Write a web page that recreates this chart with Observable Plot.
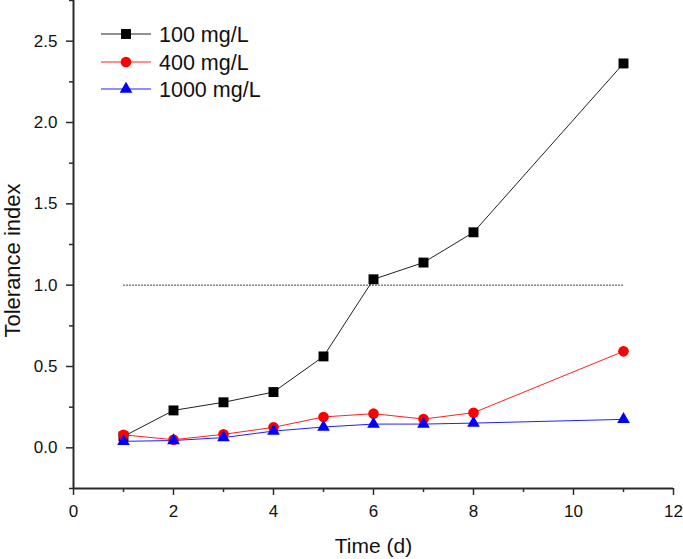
<!DOCTYPE html>
<html>
<head>
<meta charset="utf-8">
<script src="https://cdn.jsdelivr.net/npm/d3@7"></script>
<script src="https://cdn.jsdelivr.net/npm/@observablehq/plot@0.6"></script>
<style>
  html, body { margin: 0; padding: 0; background: #fff; }
  #chart { position: relative; width: 683px; height: 559px; }
</style>
</head>
<body>
<div id="chart"></div>
<script>
// ---- data ----
const days = [1, 2, 3, 4, 5, 6, 7, 8, 11];
const series = ["100 mg/L", "400 mg/L", "1000 mg/L"];
const values100 = [0.07, 0.23, 0.28, 0.343, 0.562, 1.036, 1.139, 1.325, 2.363];
const values400 = [0.08, 0.05, 0.083, 0.126, 0.19, 0.21, 0.177, 0.216, 0.593];
const values1000 = [0.04, 0.045, 0.063, 0.103, 0.128, 0.146, 0.146, 0.152, 0.175];
const thresholdValue = 1.0;
const thresholdRange = [1, 11];
const xMajorTicks = [0, 2, 4, 6, 8, 10, 12];
const xMinorTicks = [1, 3, 5, 7, 9, 11];
const yMajorTicks = [0, 0.5, 1.0, 1.5, 2.0, 2.5];
const yMinorTicks = [-0.25, 0.25, 0.75, 1.25, 1.75, 2.25, 2.75];
const xTitle = "Time (d)";
const yTitle = "Tolerance index";

const colors = ["#000000", "#ff0000", "#0000ff"];
const lineColors = ["#222222", "#ff2020", "#2020ff"];
const symbols = ["square", "circle", "triangle"];
const radii = [5.6, 5.3, 4.7];

const allValues = [values100, values400, values1000];
const rows = [];
series.forEach((s, i) => days.forEach((d, j) => rows.push({series: s, idx: i, day: d, value: allValues[i][j]})));

const axisColor = "#2a2a2a";
const font = "'Liberation Sans', Arial, sans-serif";

const marks = [
  Plot.ruleX([0], {stroke: axisColor, strokeWidth: 2}),
  Plot.ruleY([-0.25], {stroke: axisColor, strokeWidth: 2}),
  Plot.axisX({ticks: xMajorTicks, tickSize: 7, tickPadding: 9, tickFormat: d => String(d), fontSize: 17, stroke: axisColor, strokeWidth: 1.5, label: null}),
  Plot.axisX({ticks: xMinorTicks, tickSize: 4, tickFormat: () => "", stroke: axisColor, strokeWidth: 1.5, label: null}),
  Plot.axisY({ticks: yMajorTicks, tickSize: 7, tickPadding: 9, tickFormat: d => d.toFixed(1), fontSize: 17, stroke: axisColor, strokeWidth: 1.5, label: null}),
  Plot.axisY({ticks: yMinorTicks, tickSize: 4, tickFormat: () => "", stroke: axisColor, strokeWidth: 1.5, label: null}),
  Plot.text([yTitle], {frameAnchor: "left", textAnchor: "middle", lineAnchor: "middle", rotate: -90, dx: -61, dy: 16, fontSize: 22, fill: "#111"}),
  Plot.text([xTitle], {frameAnchor: "bottom", textAnchor: "middle", lineAnchor: "middle", dy: 58, fontSize: 21, fill: "#111"}),
  Plot.lineY(thresholdRange.map(x => ({x, y: thresholdValue})), {x: "x", y: "y", stroke: "#333", strokeWidth: 1, strokeDasharray: "1,2"})
];
series.forEach((s, i) => {
  const data = rows.filter(r => r.idx === i);
  marks.push(Plot.line(data, {x: "day", y: "value", stroke: lineColors[i], strokeWidth: 1}));
});
series.forEach((s, i) => {
  const data = rows.filter(r => r.idx === i);
  marks.push(Plot.dot(data, {x: "day", y: "value", symbol: () => symbols[i], r: radii[i], fill: colors[i], stroke: "none"}));
});

const plot = Plot.plot({
  width: 683,
  height: 559,
  marginLeft: 73,
  marginRight: 10,
  marginTop: 0,
  marginBottom: 71,
  x: {domain: [0, 12], axis: null},
  y: {domain: [-0.25, 2.75], axis: null},
  style: {fontFamily: font, color: "#111", overflow: "visible"},
  marks
});
document.getElementById("chart").appendChild(plot);

// ---- legend drawn into the plot svg ----
const svg = d3.select(plot);
const lg = svg.append("g").attr("font-family", font).attr("text-anchor", "start");
const rowY = [34, 62, 89];
const symType = {square: d3.symbolSquare, circle: d3.symbolCircle, triangle: d3.symbolTriangle};
series.forEach((s, i) => {
  const g = lg.append("g").attr("transform", `translate(0,${rowY[i]})`);
  g.append("line").attr("x1", 101).attr("x2", 151).attr("y1", 0).attr("y2", 0)
    .attr("stroke", lineColors[i]).attr("stroke-width", 1);
  g.append("path").attr("transform", "translate(126,0)")
    .attr("d", d3.symbol(symType[symbols[i]], Math.PI * radii[i] * radii[i])())
    .attr("fill", colors[i]);
  g.append("text").attr("x", 159).attr("y", 0).attr("dy", "0.35em")
    .attr("font-size", 21.5).attr("fill", "#111").text(s);
});
</script>
</body>
</html>
